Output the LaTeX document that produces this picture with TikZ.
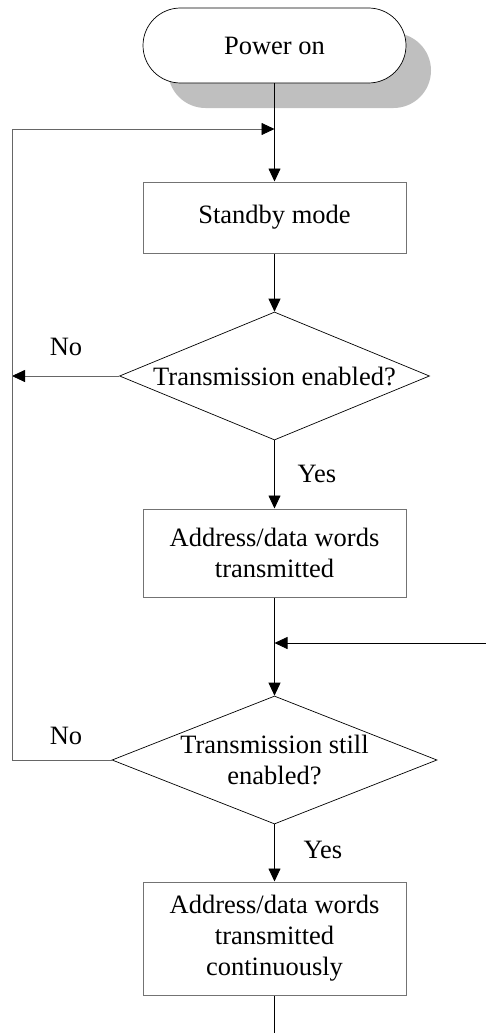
\documentclass[tikz,border=0pt]{standalone}
\usepackage{fontspec}
\setmainfont{Liberation Serif}
\usetikzlibrary{shapes.geometric,arrows.meta,shadows}

\tikzset{
    flow/.style={-{Triangle[length=13pt,width=12pt,color=black]}, line width=0.8pt},
    loopline/.style={draw=black!60, line width=0.9pt},
    box/.style={draw=black!55, line width=1pt, minimum width=263pt, align=center, inner sep=0pt},
    decision/.style={diamond, draw, line width=0.7pt, align=center, inner sep=-3pt, aspect=2.5},
    terminal/.style={draw, line width=0.7pt, rounded corners=37.5pt, minimum width=263pt,
        minimum height=75pt, fill=white,
        drop shadow={shadow xshift=25pt, shadow yshift=-25pt, fill=black!25, opacity=1}},
}

\begin{document}
\begin{tikzpicture}[x=1pt, y=-1pt, every node/.style={font=\fontsize{26.5pt}{31pt}\selectfont}]
    \useasboundingbox (0,0) rectangle (486,1033);
    % Knoten
    \node[terminal] (power) at (274.5,45.5) {Power on};
    \node[box, minimum height=71pt] (standby) at (274.5,217.5) {Standby mode};
    \node[decision, minimum width=310pt, minimum height=128pt] (enabled) at (274.5,376) {Transmission enabled?};
    \node[box, minimum height=88pt] (words) at (274.5,553) {Address/data words\\transmitted};
    \node[decision, minimum width=325pt, minimum height=128pt] (still) at (274.5,760) {Transmission still\\enabled?};
    \node[box, minimum height=113pt] (cont) at (274.5,938.5) {Address/data words\\transmitted\\continuously};
    % Hilfspunkte
    \coordinate (loop) at (12,129);
    \coordinate (join) at (274.5,129);
    \coordinate (ext) at (486,643);
    \coordinate (merge) at (274.5,643);
    \coordinate (out) at (274.5,1033);
    % Verbindungen
    \draw[flow] (power) -- (standby);
    \draw[flow] (standby) -- (enabled);
    \draw[flow] (enabled) -- (words);
    \draw[flow] (words) -- (still);
    \draw[flow] (still) -- (cont);
    \draw[flow] (ext) -- (merge);
    \draw[line width=0.8pt] (cont) -- (out);
    % Rueckfuehrung
    \draw[flow, draw=black!60] (enabled.west) -- (enabled.west -| loop);
    \draw[loopline] (still.west) -| (loop);
    \draw[flow, draw=black!60] (loop) -- (join);
    % Beschriftungen
    \node (no1) at (66,347) {No};
    \node (no2) at (66,736) {No};
    \node (yes1) at (317,474) {Yes};
    \node (yes2) at (323,850) {Yes};
\end{tikzpicture}
\end{document}
